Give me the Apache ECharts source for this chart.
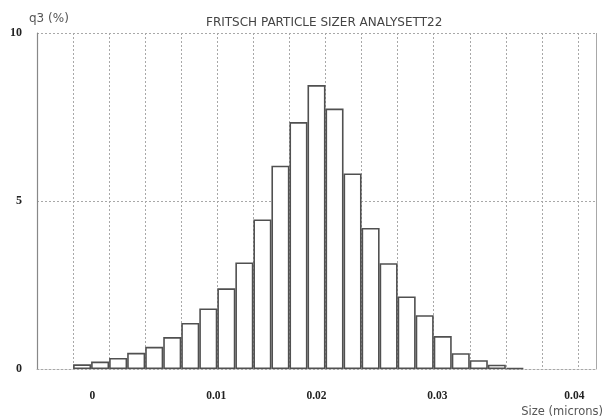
<!DOCTYPE html>
<html>
<head>
<meta charset="utf-8">
<script src="https://cdn.jsdelivr.net/npm/echarts@6/dist/echarts.min.js"></script>
<style>
html,body{margin:0;padding:0;background:#fff}
#chart{width:606px;height:418px}
</style>
</head>
<body>
<div id="chart"></div>
<script>
// q3 (%) per size class
var q3=[0.14,0.22,0.33,0.48,0.66,0.95,1.37,1.8,2.4,3.17,4.45,6.05,7.35,8.45,7.75,5.82,4.2,3.15,2.16,1.6,0.98,0.47,0.26,0.13,0.03];
// empty half-cells left and right of the histogram
var padBefore=2, padAfter=4;
// size tick labels and where they sit, counted in half-cells from the left border
var sizeLabels=['0','0.01','0.02','0.03','0.04'];
var sizeSlots=[3.07,9.94,15.5,22.2,29.8];
var yTicks=[0,5,10];

var cats=[], vals=[];
var n=padBefore+q3.length+padAfter;
for(var i=0;i<n;i++){
    cats.push('c'+i);
    var k=i-padBefore;
    vals.push(k>=0&&k<q3.length?q3[k]:'-');
}

var dot={color:'#a8a8a8',type:[2,2],width:1};
var chart=echarts.init(document.getElementById('chart'));
chart.setOption({
    animation:false,
    title:{text:'FRITSCH PARTICLE SIZER ANALYSETT22',left:201,top:12,
        textStyle:{fontFamily:'DejaVu Sans',fontSize:12,fontWeight:'normal',color:'#444'}},
    grid:{left:37,right:7,top:33,bottom:49},
    xAxis:[{
        type:'category',data:cats,boundaryGap:true,
        axisLine:{show:true,lineStyle:dot},
        axisTick:{show:false},axisLabel:{show:false},
        splitLine:{show:true,interval:1,lineStyle:dot}
    },{
        type:'value',min:0,max:n,position:'bottom',
        axisLine:{show:false},axisTick:{show:false},splitLine:{show:false},
        axisLabel:{customValues:sizeSlots,margin:21,
            fontFamily:'Liberation Serif',fontWeight:'bold',fontSize:11.5,color:'#222',
            formatter:function(v){return sizeLabels[sizeSlots.indexOf(v)];}},
        name:'Size (microns)',nameLocation:'end',nameGap:7,
        nameTextStyle:{fontFamily:'DejaVu Sans',fontSize:11.5,color:'#555',align:'right',verticalAlign:'top',padding:[37,0,0,0]}
    }],
    yAxis:[{
        type:'value',min:0,max:10,interval:5,
        axisLine:{show:true,lineStyle:{color:'#888',width:1.2}},
        axisTick:{show:false},
        axisLabel:{margin:15,fontFamily:'Liberation Serif',fontWeight:'bold',fontSize:12,color:'#222',
            formatter:function(v){return yTicks.indexOf(v)>=0?String(v):'';}},
        splitLine:{show:true,lineStyle:dot},
        name:'q3 (%)',nameLocation:'end',nameGap:8,
        nameTextStyle:{fontFamily:'DejaVu Sans',fontSize:12,color:'#555',align:'left',padding:[0,0,0,-8]}
    },{
        type:'value',min:0,max:10,position:'right',
        axisLine:{show:true,lineStyle:dot},
        axisTick:{show:false},axisLabel:{show:false},splitLine:{show:false}
    }],
    series:[{
        type:'bar',data:vals,barCategoryGap:'0%',
        itemStyle:{color:'#fff',borderColor:'#505050',borderWidth:1.6}
    }]
});
</script>
</body>
</html>
